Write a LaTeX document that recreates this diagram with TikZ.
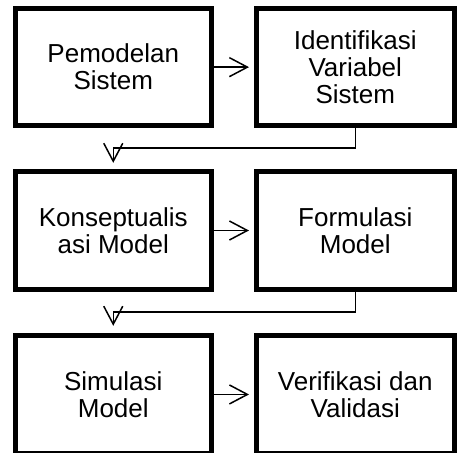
\documentclass[tikz,border=0pt]{standalone}
\usepackage{fontspec}
\setmainfont{Liberation Sans}
\usetikzlibrary{arrows.meta}
\begin{document}
\begin{tikzpicture}[x=1pt,y=-1pt,
  stepbox/.style={draw=black,line width=5pt,fill=white,rectangle,
    minimum height=117.3pt,inner sep=0pt,align=center,
    font=\fontsize{26}{27}\selectfont},
  leftbox/.style={stepbox,minimum width=196.5pt},
  rightbox/.style={stepbox,minimum width=198.5pt},
  flow/.style={line width=1.5pt,-{Straight Barb[length=18pt,width=19pt]}}]
\useasboundingbox (0,0) rectangle (457,452);

% boxes, three rows of two
\node[leftbox]  (l1) at (113.25,67.15)  {Pemodelan\\Sistem};
\node[rightbox] (r1) at (355.25,67.15)  {Identifikasi\\Variabel\\Sistem};
\node[leftbox]  (l2) at (113.25,230.5)  {Konseptualis\\asi Model};
\node[rightbox] (r2) at (355.25,230.5)  {Formulasi\\Model};
\node[leftbox]  (l3) at (113.25,394.45) {Simulasi\\Model};
\node[rightbox] (r3) at (355.25,394.45) {Verifikasi dan\\Validasi};

% levels of the return connectors
\coordinate (j1) at (0,148);
\coordinate (j2) at (0,312);

% left-to-right steps
\draw[flow,shorten >=4.5pt] (l1.east) -- (r1.west);
\draw[flow,shorten >=4.5pt] (l2.east) -- (r2.west);
\draw[flow,shorten >=4.5pt] (l3.east) -- (r3.west);

% back to the next row
\draw[flow] (r1.south) |- (l2.north |- j1) -- ([yshift=6.5pt]l2.north);
\draw[flow] (r2.south) |- (l3.north |- j2) -- ([yshift=7.5pt]l3.north);
\end{tikzpicture}
\end{document}
